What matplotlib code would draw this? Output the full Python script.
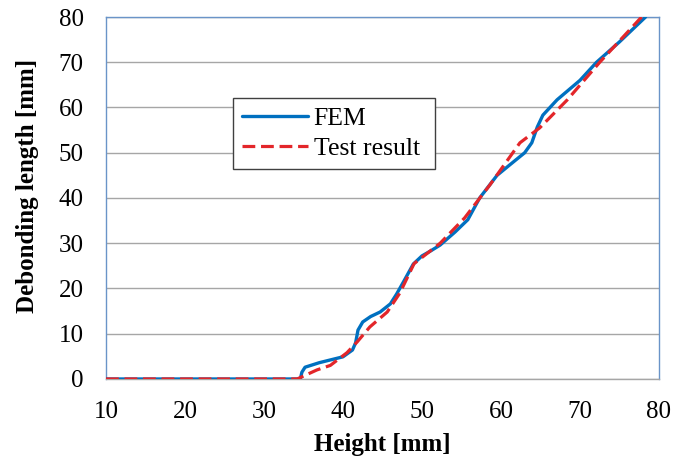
import matplotlib

matplotlib.use("Agg")
import matplotlib.pyplot as plt  # noqa: E402

# values
fem_height = [10, 34.6, 34.8, 35.2, 37.0, 40.0, 41.2, 41.6, 41.9, 42.5, 43.5, 44.7, 46.0, 46.8,
              47.8, 48.9, 50.0, 51.0, 52.3, 54.2, 55.8, 57.3, 59.5, 61.1, 63.0, 63.9, 64.6,
              65.3, 67.1, 70.0, 72.1, 75.0, 78.3]
fem_length = [0, 0, 1.5, 2.6, 3.6, 4.9, 6.4, 8.0, 10.8, 12.6, 13.8, 14.8, 16.6, 18.8,
              21.9, 25.4, 27.2, 28.2, 29.6, 32.5, 35.2, 40.0, 45.0, 47.3, 50.0, 52.2, 55.7,
              58.3, 61.7, 66.0, 70.0, 74.5, 80.0]

test_height = [10, 34.2, 36.7, 38.4, 40.5, 41.8, 43.4, 45.6, 47.2, 49.0, 52.3, 55.4,
               58.6, 61.5, 62.4, 64.9, 68.4, 72.5, 77.8]
test_length = [0, 0, 2.0, 3.0, 5.8, 8.2, 11.5, 14.8, 19.0, 25.5, 30.0, 35.6,
               42.9, 50.0, 52.2, 55.5, 61.7, 70.0, 80.0]

x_ticks = [10, 20, 30, 40, 50, 60, 70, 80]
y_ticks = [0, 10, 20, 30, 40, 50, 60, 70, 80]

plt.rcParams["font.family"] = ["Liberation Serif", "DejaVu Serif"]

fig = plt.figure(figsize=(6.86, 4.62), dpi=100)
ax = fig.add_axes([0.1545, 0.1797, 0.8061, 0.7835])

ax.plot(fem_height, fem_length, color="#0070C0", lw=2.4, label="FEM",
        solid_joinstyle="round", solid_capstyle="round", zorder=3)
ax.plot(test_height, test_length, color="#E3262A", lw=2.3, ls=(0, (4, 1.8)),
        label="Test result ", zorder=4)

ax.set_xlim(10, 80)
ax.set_ylim(0, 80)
ax.set_xticks(x_ticks)
ax.set_yticks(y_ticks)
ax.tick_params(length=0, labelsize=18)
ax.tick_params(axis="y", pad=16)
ax.tick_params(axis="x", pad=16)
ax.grid(axis="y", color="#A6A6A6", lw=1.0)
ax.set_axisbelow(True)

for side in ("top", "right", "left"):
    ax.spines[side].set_color("#6A94C8")
    ax.spines[side].set_linewidth(1.0)
ax.spines["bottom"].set_color("#A6A6A6")
ax.spines["bottom"].set_linewidth(1.0)

ax.set_xlabel("Height [mm]", fontsize=18, fontweight="bold", labelpad=7)
ax.set_ylabel("Debonding length [mm]", fontsize=18, fontweight="bold")
ax.yaxis.set_label_coords(-0.121, 0.533)

leg = ax.legend(loc="upper left", bbox_to_anchor=(0.23, 0.776), fontsize=18.5,
                frameon=True, fancybox=False, framealpha=1, edgecolor="#404040",
                handlelength=2.6, handletextpad=0.2, borderpad=0.33, labelspacing=0.3,
                borderaxespad=0)
leg.get_frame().set_linewidth(1.0)

fig.savefig("out.png")
